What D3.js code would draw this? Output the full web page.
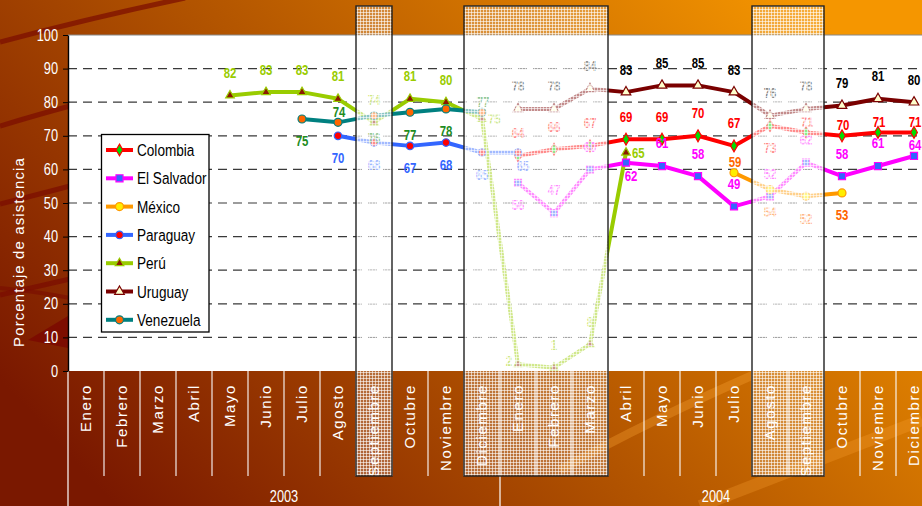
<!DOCTYPE html>
<html>
<head>
<meta charset="utf-8">
<script src="https://cdnjs.cloudflare.com/ajax/libs/d3/7.8.5/d3.min.js"></script>
<style>
  html, body { margin: 0; padding: 0; overflow: hidden; background: #a84800; }
  svg { display: block; }
</style>
</head>
<body>
<div id="canvas"></div>
<script>
// data
var months = ['Enero','Febrero','Marzo','Abril','Mayo','Junio','Julio','Agosto','Septiembre','Octubre','Noviembre','Diciembre',
              'Enero','Febrero','Marzo','Abril','Mayo','Junio','Julio','Agosto','Septiembre','Octubre','Noviembre','Diciembre'];
var years = ['2003', '2004'];
var yTicks = [0, 10, 20, 30, 40, 50, 60, 70, 80, 90, 100];
var shadedMonths = [8, 11, 12, 13, 14, 19, 20];
var countries = ['Colombia', 'El Salvador', 'México', 'Paraguay', 'Perú', 'Uruguay', 'Venezuela'];

var colombia   = [null,null,null,null,null,null,null,null,null,null,null,null, 64,66,67,69,69,70,67,73,71,70,71,71];
var elSalvador = [null,null,null,null,null,null,null,null,null,null,null,null, 56,47,60,62,61,58,49,52,62,58,61,64];
var mexico     = [null,null,null,null,null,null,null,null,null,null,null,null, null,null,null,null,null,null,59,54,52,53,null,null];
var paraguay   = [null,null,null,null,null,null,null,70,68,67,68,65, 65,null,null,null,null,null,null,null,null,null,null,null];
var peru       = [null,null,null,null,82,83,83,81,74,81,80,75, 2,1,8,65,null,null,null,null,null,null,null,null];
var uruguay    = [null,null,null,null,null,null,null,null,null,null,null,null, 78,78,84,83,85,85,83,76,78,79,81,80];
var venezuela  = [null,null,null,null,null,null,75,74,76,77,78,77, null,null,null,null,null,null,null,null,null,null,null,null];

// styles (label placement: t above, b below, T close above, B close below, r right, l left)
var seriesStyle = [
  { values: colombia,   line: '#ff0000', label: '#ff0000', shape: d3.symbolDiamond,  size: 40, fill: '#00dd00', stroke: '#ff0000', place: '............tttttttbTTTT' },
  { values: elSalvador, line: '#ff00ff', label: '#ff00ff', shape: d3.symbolSquare,   size: 50, fill: '#3366ff', stroke: '#ff00ff', place: '............bttBtttttttT' },
  { values: mexico,     line: '#ff9900', label: '#ff6600', shape: d3.symbolCircle,   size: 50, fill: '#ffee00', stroke: '#ff9900', place: '..................Tbbb..' },
  { values: paraguay,   line: '#3366ff', label: '#3366ff', shape: d3.symbolCircle,   size: 45, fill: '#ff0000', stroke: '#3366ff', place: '.......bbbbbB...........' },
  { values: peru,       line: '#99cc00', label: '#99cc00', shape: d3.symbolTriangle, size: 32, fill: '#8b1a00', stroke: '#99cc00', place: '....tttttttrlttr........' },
  { values: uruguay,    line: '#7a0000', label: '#000000', shape: d3.symbolTriangle, size: 40, fill: '#ffffcc', stroke: '#7a0000', place: '............tttttttttttt' },
  { values: venezuela,  line: '#008080', label: '#1e8c1e', shape: d3.symbolCircle,   size: 50, fill: '#ff6600', stroke: '#008080', place: '......bTbbbT............' }
];

var font = "'Liberation Sans', Arial, sans-serif";
var squeeze = 0.8; // the picture uses a condensed face

var chart = {
  width: 922,
  height: 506,
  plot: { left: 68, right: 932, top: 35, bottom: 371 },

  init: function() {
    chart.svg = d3.select('#canvas').append('svg')
      .attr('width', chart.width)
      .attr('height', chart.height)
      .style('font-family', font);

    chart.x = d3.scaleBand().domain(d3.range(months.length)).range([chart.plot.left, chart.plot.right]);
    chart.y = d3.scaleLinear().domain([0, 100]).range([chart.plot.bottom, chart.plot.top]);

    chart.defs();
    chart.background();
    chart.grid();
    chart.categoryAxis();
    chart.series();
    chart.shading();
    chart.valueAxis();
    chart.legend();
  },

  // condensed text placed at (x, y)
  narrow: function(sel, x, y, sx) {
    return sel.attr('transform', function(d, i) {
      return 'translate(' + x(d, i) + ',' + y(d, i) + ') scale(' + (sx || squeeze) + ',1)';
    });
  },

  defs: function() {
    var defs = chart.svg.append('defs');

    var grad = defs.append('linearGradient').attr('id', 'bg')
      .attr('x1', 0).attr('y1', 0.75).attr('x2', 1).attr('y2', 0.25);
    grad.append('stop').attr('offset', 0).attr('stop-color', '#7a1800');
    grad.append('stop').attr('offset', 0.45).attr('stop-color', '#b05200');
    grad.append('stop').attr('offset', 1).attr('stop-color', '#f59600');

    // fine white grid used on the highlighted months
    var pat = defs.append('pattern').attr('id', 'mesh')
      .attr('width', 3).attr('height', 3).attr('patternUnits', 'userSpaceOnUse');
    pat.append('rect').attr('width', 3).attr('height', 3).attr('fill', '#fff').attr('opacity', 0.22);
    pat.append('rect').attr('width', 3).attr('height', 1).attr('fill', '#fff').attr('opacity', 0.6);
    pat.append('rect').attr('width', 1).attr('height', 3).attr('fill', '#fff').attr('opacity', 0.6);
  },

  background: function() {
    var svg = chart.svg;
    svg.append('rect').attr('width', chart.width).attr('height', chart.height).attr('fill', 'url(#bg)');

    // template swooshes
    var sw = svg.append('g').attr('fill', 'none');
    sw.append('path').attr('d', 'M0,42 Q90,18 185,-2').attr('stroke', '#7a0c00').attr('stroke-width', 5).attr('opacity', 0.7);
    sw.append('path').attr('d', 'M0,126 Q40,114 70,106').attr('stroke', '#7a0c00').attr('stroke-width', 5).attr('opacity', 0.7);
    sw.append('path').attr('d', 'M0,204 Q40,194 70,186').attr('stroke', '#7a0c00').attr('stroke-width', 5).attr('opacity', 0.7);
    sw.append('path').attr('d', 'M0,295 Q40,286 70,279').attr('stroke', '#7a0c00').attr('stroke-width', 5).attr('opacity', 0.7);
    sw.append('path').attr('d', 'M0,288 Q40,292 70,298').attr('stroke', '#7a0c00').attr('stroke-width', 4).attr('opacity', 0.6);
    sw.append('path').attr('d', 'M28,340 L68,316 L68,348 Z').attr('fill', '#7a0800').attr('opacity', 0.8);
    sw.append('path').attr('d', 'M560,470 Q650,420 760,372').attr('stroke', '#f7a030').attr('stroke-width', 9).attr('opacity', 0.35);
    sw.append('path').attr('d', 'M700,506 Q820,460 922,420').attr('stroke', '#f7a030').attr('stroke-width', 12).attr('opacity', 0.3);

    var p = chart.plot;
    svg.append('rect')
      .attr('x', p.left).attr('y', p.top)
      .attr('width', p.right - p.left).attr('height', p.bottom - p.top)
      .attr('fill', '#fff');
    svg.append('line')
      .attr('x1', p.left).attr('x2', p.right).attr('y1', p.top).attr('y2', p.top)
      .attr('stroke', '#888').attr('stroke-width', 1);
  },

  grid: function() {
    var p = chart.plot;
    chart.svg.append('g').selectAll('line')
      .data(yTicks.filter(function(t) { return t > 0 && t < 100; }))
      .enter().append('line')
      .attr('x1', p.left).attr('x2', p.right)
      .attr('y1', function(d) { return chart.y(d); })
      .attr('y2', function(d) { return chart.y(d); })
      .attr('stroke', '#3a3a3a')
      .attr('stroke-width', 1.2)
      .attr('stroke-dasharray', '9,6');
  },

  categoryAxis: function() {
    var svg = chart.svg, x = chart.x, p = chart.plot;
    var bw = x.bandwidth();
    var g = svg.append('g');

    // separators between months
    g.selectAll('line.sep')
      .data(d3.range(1, months.length))
      .enter().append('line')
      .attr('class', 'sep')
      .attr('x1', function(i) { return x(i); })
      .attr('x2', function(i) { return x(i); })
      .attr('y1', p.bottom).attr('y2', 476)
      .attr('stroke', '#fff').attr('stroke-width', 1.2).attr('opacity', 0.9);
    g.append('line')
      .attr('x1', p.left).attr('x2', p.left).attr('y1', p.bottom).attr('y2', chart.height)
      .attr('stroke', '#fff').attr('stroke-width', 1.2);
    g.append('line')
      .attr('x1', x(12)).attr('x2', x(12)).attr('y1', 476).attr('y2', chart.height)
      .attr('stroke', '#fff').attr('stroke-width', 1.2);

    g.selectAll('text.month')
      .data(months)
      .enter().append('text')
      .attr('class', 'month')
      .attr('transform', function(d, i) { return 'translate(' + (x(i) + bw / 2) + ',384) rotate(-90)'; })
      .attr('dy', '0.36em')
      .attr('text-anchor', 'end')
      .attr('fill', '#fff')
      .style('font-size', '15px')
      .style('letter-spacing', '1.6px')
      .text(function(d) { return d; });

    chart.narrow(g.selectAll('text.year').data(years).enter().append('text'),
        function(d, i) { return (x(i * 12) + x(i * 12 + 11) + bw) / 2; },
        function() { return 502; })
      .attr('class', 'year')
      .attr('text-anchor', 'middle')
      .attr('fill', '#fff')
      .style('font-size', '16px')
      .text(function(d) { return d; });
  },

  series: function() {
    var x = chart.x, y = chart.y;
    var bw = x.bandwidth();
    var cx = function(i) { return x(i) + bw / 2; };

    var line = d3.line()
      .defined(function(d) { return d != null; })
      .x(function(d, i) { return cx(i); })
      .y(function(d) { return y(d); });

    var lines = chart.svg.append('g');
    var marks = chart.svg.append('g');
    var labels = chart.svg.append('g')
      .style('font-size', '15px')
      .style('font-weight', 'bold');

    var offs = {
      t: [0, -23, 'middle'], b: [0, 22, 'middle'],
      T: [1, -11, 'middle'], B: [5, 13, 'middle'],
      r: [6, 0, 'start'],    l: [-9, -4, 'middle']
    };

    seriesStyle.forEach(function(s) {
      lines.append('path')
        .datum(s.values)
        .attr('d', line)
        .attr('fill', 'none')
        .attr('stroke', s.line)
        .attr('stroke-width', 4)
        .attr('stroke-linejoin', 'round');

      var pts = s.values.map(function(v, i) { return { v: v, i: i }; })
        .filter(function(d) { return d.v != null; });

      marks.selectAll(null)
        .data(pts)
        .enter().append('path')
        .attr('d', d3.symbol().type(s.shape).size(s.size))
        .attr('transform', function(d) { return 'translate(' + cx(d.i) + ',' + y(d.v) + ')'; })
        .attr('fill', s.fill)
        .attr('stroke', s.stroke)
        .attr('stroke-width', 1.2);

      chart.narrow(labels.selectAll(null).data(pts).enter().append('text'),
          function(d) { return cx(d.i) + offs[s.place[d.i]][0]; },
          function(d) { return y(d.v) + offs[s.place[d.i]][1]; }, 0.76)
        .attr('dy', '0.36em')
        .attr('text-anchor', function(d) { return offs[s.place[d.i]][2]; })
        .attr('fill', s.label)
        .text(function(d) { return d.v; });
    });
  },

  shading: function() {
    var x = chart.x, p = chart.plot;
    var bw = x.bandwidth();
    var g = chart.svg.append('g');

    // group consecutive highlighted months into blocks
    var blocks = [];
    shadedMonths.forEach(function(m) {
      var last = blocks[blocks.length - 1];
      if (last && last.end === m - 1) { last.end = m; }
      else { blocks.push({ start: m, end: m }); }
    });

    blocks.forEach(function(b) {
      var x0 = x(b.start), w = x(b.end) + bw - x0;
      g.append('rect')
        .attr('x', x0).attr('y', p.top).attr('width', w).attr('height', p.bottom - p.top)
        .attr('fill', '#fff').attr('opacity', 0.42);
      g.append('rect')
        .attr('x', x0).attr('y', 6).attr('width', w).attr('height', 476 - 6)
        .attr('fill', 'url(#mesh)');
      g.append('rect')
        .attr('x', x0).attr('y', 6).attr('width', w).attr('height', 476 - 6)
        .attr('fill', 'none')
        .attr('stroke', '#222')
        .attr('stroke-width', 1.4);
    });
  },

  valueAxis: function() {
    var p = chart.plot;
    var axis = chart.svg.append('g')
      .attr('transform', 'translate(' + p.left + ',0)')
      .call(d3.axisLeft(chart.y).tickValues(yTicks).tickSize(5).tickSizeOuter(0).tickPadding(5));
    axis.select('.domain').attr('stroke', '#000').attr('stroke-width', 1.4);
    axis.selectAll('.tick line').attr('stroke', '#000');
    axis.selectAll('.tick text')
      .attr('x', -10 / squeeze)
      .attr('transform', 'scale(' + squeeze + ',1)')
      .attr('fill', '#fff')
      .style('font-family', font)
      .style('font-size', '16px');

    chart.svg.append('text')
      .attr('transform', 'translate(19,' + 252 + ') rotate(-90)')
      .attr('dy', '0.36em')
      .attr('text-anchor', 'middle')
      .attr('fill', '#fff')
      .style('font-size', '15px')
      .style('letter-spacing', '1.1px')
      .text('Porcentaje de asistencia');
  },

  legend: function() {
    var g = chart.svg.append('g');
    g.append('rect')
      .attr('x', 101.5).attr('y', 134.5).attr('width', 107.5).attr('height', 197.5)
      .attr('fill', '#fff').attr('stroke', '#000').attr('stroke-width', 1.3);

    var items = g.selectAll('g.item')
      .data(seriesStyle)
      .enter().append('g')
      .attr('class', 'item')
      .attr('transform', function(d, i) { return 'translate(0,' + (150 + i * 28.3) + ')'; });

    items.append('line')
      .attr('x1', 106).attr('x2', 133)
      .attr('stroke', function(d) { return d.line; })
      .attr('stroke-width', 4);
    items.append('path')
      .attr('d', function(d) { return d3.symbol().type(d.shape).size(d.size)(); })
      .attr('transform', 'translate(119.5,0)')
      .attr('fill', function(d) { return d.fill; })
      .attr('stroke', function(d) { return d.stroke; })
      .attr('stroke-width', 1.2);
    items.append('text')
      .attr('transform', 'translate(137,0) scale(' + squeeze + ',1)')
      .attr('dy', '0.36em')
      .attr('fill', '#000')
      .style('font-size', '17px')
      .text(function(d, i) { return countries[i]; });
  }
};

chart.init();
</script>
</body>
</html>
